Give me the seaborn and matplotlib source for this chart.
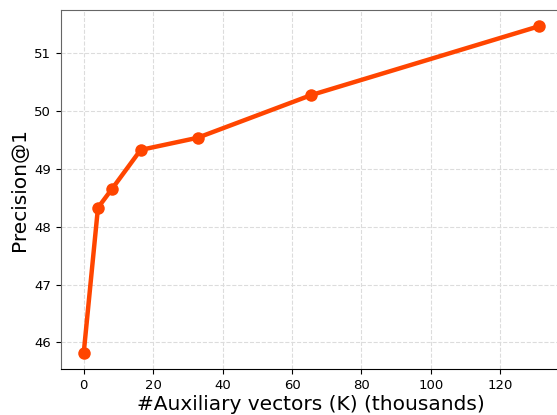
import matplotlib
matplotlib.use("Agg")
import matplotlib.pyplot as plt
import numpy as np
import pandas as pd
import seaborn as sns

# auxiliary vectors (thousands) vs precision@1
aux_k = [0, 4.096, 8.192, 16.384, 32.768, 65.536, 131.072]
precision = [45.82, 48.33, 48.66, 49.33, 49.54, 50.28, 51.47]

df = pd.DataFrame({"aux": aux_k, "prec": precision})

sns.set_style("ticks")
plt.rcParams["font.family"] = ["DejaVu Sans"]

fig = plt.figure(figsize=(5.57, 4.15), dpi=100)
# right edge of the axes runs past the canvas, as in the reference crop
ax = fig.add_axes([61 / 557, 46 / 415, 500.5 / 557, 359 / 415])

sns.lineplot(data=df, x="aux", y="prec", ax=ax, color="#FF4500",
             linewidth=3.2, marker="o", markersize=9, markeredgewidth=0)

ax.grid(True, linestyle="--", color="#dcdcdc", linewidth=0.8)
ax.set_axisbelow(True)

ax.set_xticks([0, 20, 40, 60, 80, 100, 120])
ax.set_yticks([46, 47, 48, 49, 50, 51])
ax.tick_params(labelsize=9.5, length=3.5, width=0.8, colors="black")

ax.set_xlabel("#Auxiliary vectors (K) (thousands)", fontsize=14.5,
              color="black", labelpad=2)
ax.set_ylabel("Precision@1", fontsize=14.5, color="black")

for s in ["left", "top"]:
    ax.spines[s].set_color("#666666")
ax.spines["bottom"].set_color("black")

plt.savefig("out.png", dpi=100)
plt.close()
